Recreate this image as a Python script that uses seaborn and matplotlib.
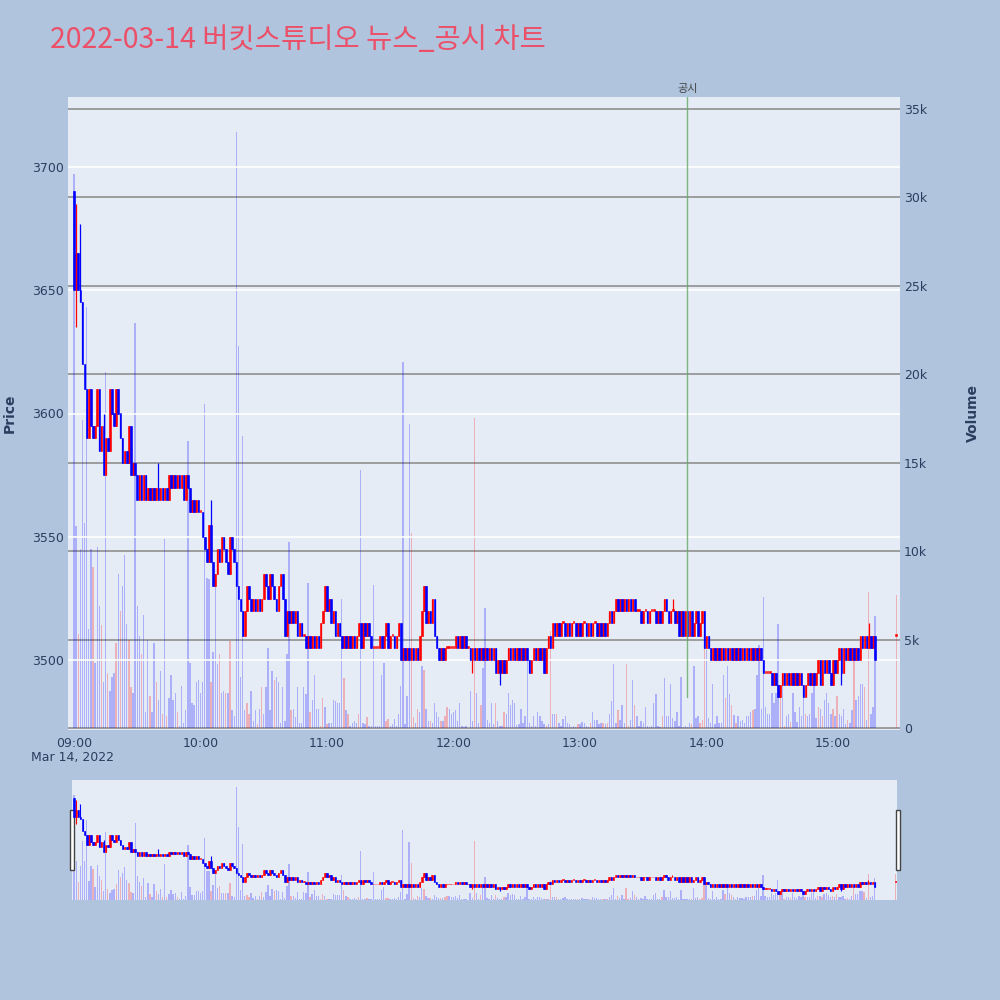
import numpy as np
import pandas as pd
import matplotlib
matplotlib.use("Agg")
import matplotlib.pyplot as plt
from matplotlib.patches import Rectangle
from matplotlib.ticker import FuncFormatter
import seaborn as sns

TITLE = "2022-03-14 버킷스튜디오 뉴스_공시 차트"
SESSION_START = "2022-03-14 09:00"
AUCTION_TIME = "2022-03-14 15:30"
NEWS_TIME = "2022-03-14 13:51"
NEWS_LABEL = "공시"

# 1-minute closes, 09:00 .. 15:20 (open = previous close)
first_open = 3690
closes = [
    3650, 3665, 3650, 3645, 3620, 3610, 3590, 3610, 3595, 3590,
    3595, 3610, 3585, 3595, 3575, 3590, 3585, 3610, 3600, 3595,
    3610, 3600, 3590, 3580, 3585, 3580, 3595, 3575, 3580, 3575,
    3565, 3575, 3565, 3575, 3565, 3570, 3565, 3570, 3565, 3570,
    3565, 3570, 3565, 3570, 3565, 3575, 3570, 3575, 3570, 3575,
    3570, 3575, 3565, 3575, 3570, 3560, 3565, 3560, 3565, 3560,
    3560, 3550, 3545, 3540, 3555, 3540, 3530, 3535, 3545, 3540,
    3550, 3545, 3540, 3535, 3550, 3545, 3540, 3530, 3525, 3520,
    3510, 3520, 3530, 3525, 3520, 3525, 3520, 3525, 3520, 3525,
    3535, 3530, 3525, 3535, 3530, 3525, 3520, 3530, 3535, 3525,
    3510, 3520, 3515, 3520, 3515, 3520, 3510, 3515, 3510, 3510,
    3505, 3510, 3505, 3510, 3505, 3510, 3505, 3515, 3520, 3530,
    3520, 3525, 3515, 3520, 3510, 3515, 3510, 3505, 3510, 3505,
    3510, 3505, 3510, 3505, 3510, 3515, 3505, 3515, 3510, 3515,
    3510, 3505, 3505, 3505, 3505, 3510, 3505, 3510, 3515, 3505,
    3510, 3510, 3505, 3510, 3515, 3500, 3505, 3500, 3505, 3500,
    3505, 3500, 3505, 3500, 3510, 3520, 3530, 3515, 3520, 3515,
    3525, 3510, 3505, 3500, 3505, 3500, 3505, 3505, 3505, 3505,
    3505, 3510, 3505, 3510, 3505, 3510, 3505, 3505, 3500, 3505,
    3500, 3505, 3500, 3505, 3500, 3505, 3500, 3505, 3500, 3505,
    3495, 3500, 3495, 3500, 3495, 3500, 3505, 3500, 3505, 3500,
    3505, 3500, 3505, 3500, 3505, 3500, 3495, 3500, 3505, 3500,
    3505, 3500, 3505, 3495, 3505, 3510, 3505, 3515, 3510, 3515,
    3510, 3515, 3515, 3510, 3515, 3510, 3515, 3515, 3510, 3515,
    3510, 3515, 3515, 3510, 3515, 3510, 3515, 3515, 3510, 3515,
    3510, 3515, 3510, 3515, 3520, 3515, 3520, 3525, 3520, 3525,
    3520, 3525, 3520, 3525, 3520, 3525, 3520, 3520, 3520, 3515,
    3520, 3520, 3515, 3520, 3520, 3520, 3515, 3520, 3515, 3520,
    3525, 3520, 3515, 3520, 3520, 3515, 3520, 3510, 3520, 3510,
    3520, 3510, 3520, 3510, 3515, 3520, 3510, 3515, 3520, 3505,
    3510, 3505, 3500, 3505, 3500, 3505, 3500, 3505, 3500, 3505,
    3500, 3505, 3500, 3505, 3500, 3505, 3500, 3505, 3500, 3505,
    3500, 3505, 3500, 3505, 3500, 3505, 3500, 3495, 3495, 3495,
    3495, 3490, 3495, 3490, 3485, 3490, 3495, 3490, 3495, 3490,
    3495, 3490, 3495, 3490, 3495, 3490, 3485, 3490, 3495, 3490,
    3495, 3490, 3495, 3500, 3490, 3500, 3495, 3500, 3495, 3490,
    3500, 3495, 3500, 3505, 3495, 3505, 3500, 3505, 3500, 3505,
    3500, 3505, 3500, 3510, 3505, 3510, 3505, 3510, 3505, 3510, 3500,
]
auction_price = 3510

# shadows that stick out of the body (minute index -> price)
wick_high = {1: 3685, 3: 3677, 14: 3600, 40: 3580, 65: 3565, 166: 3530,
             171: 3525, 284: 3525, 377: 3515}
wick_low = {1: 3635, 14: 3575, 27: 3575, 189: 3495, 202: 3490, 334: 3485,
            346: 3485, 364: 3490}

# volume per minute, thousands of shares
volume_k = [
    31.3, 11.4, 5.3, 10.1, 17.4, 11.6, 23.8, 5.6, 10.1, 9.1,
    3.7, 10.2, 6.9, 5.8, 2.6, 20.1, 3.1, 2.1, 2.9, 3.1,
    4.8, 8.7, 6.6, 8.0, 9.8, 5.9, 5.0, 2.3, 2.0, 22.9,
    6.9, 5.2, 4.2, 6.4, 0.9, 5.0, 1.8, 0.9, 4.8, 2.6,
    1.6, 3.2, 0.8, 10.7, 0.7, 1.7, 3.0, 1.6, 2.0, 0.9,
    0.1, 2.4, 0.3, 1.0, 16.2, 3.7, 1.4, 1.3, 2.6, 2.7,
    2.0, 2.6, 18.3, 8.5, 8.4, 2.6, 4.3, 8.0, 3.6, 4.2,
    2.0, 2.1, 2.0, 2.0, 4.9, 1.0, 0.7, 33.7, 21.6, 2.9,
    16.5, 1.0, 1.4, 0.8, 2.1, 0.4, 1.0, 0.2, 1.1, 2.3,
    0.8, 2.3, 4.5, 1.0, 3.2, 2.7, 2.9, 2.6, 0.3, 2.3,
    0.4, 4.2, 10.5, 1.0, 1.1, 0.6, 2.3, 0.3, 0.3, 2.3,
    1.9, 8.2, 0.9, 1.6, 3.0, 1.1, 1.1, 0.1, 1.7, 1.2,
    0.2, 0.3, 0.3, 1.6, 1.5, 1.4, 1.4, 7.3, 2.8, 1.0,
    0.8, 0.1, 0.3, 0.4, 0.3, 0.8, 14.6, 0.3, 0.2, 0.6,
    0.1, 0.1, 8.1, 0.1, 0.1, 0.1, 3.0, 3.7, 0.4, 0.5,
    0.1, 0.2, 0.5, 0.1, 0.8, 2.4, 20.7, 0.2, 1.8, 17.2,
    11.0, 0.6, 0.3, 1.1, 0.9, 3.5, 3.3, 1.1, 0.4, 0.4,
    0.3, 1.4, 0.9, 0.6, 0.4, 0.4, 0.7, 1.2, 1.1, 0.8,
    0.9, 1.0, 0.4, 1.4, 0.1, 0.05, 0.1, 0.0, 2.1, 0.4,
    17.5, 2.0, 0.3, 1.3, 3.4, 6.8, 0.45, 0.3, 1.4, 0.2,
    1.4, 0.4, 0.1, 0.1, 0.9, 0.8, 2.0, 1.3, 1.6, 1.4,
    0.15, 0.2, 1.1, 0.3, 0.65, 3.8, 0.3, 0.1, 0.65, 0.1,
    0.9, 0.7, 0.4, 0.2, 0.1, 0.2, 5.5, 0.8, 0.8, 0.8,
    0.3, 0.1, 0.5, 0.65, 0.3, 0.2, 0.05, 0.1, 0.05, 0.2,
    0.2, 0.35, 0.3, 0.1, 0.05, 0.3, 0.9, 0.45, 0.45, 0.2,
    0.3, 0.3, 0.2, 0.3, 0.8, 1.5, 3.6, 0.3, 1.0, 0.45,
    1.3, 0.3, 3.6, 0.1, 0.45, 2.7, 1.3, 0.65, 0.1, 0.4,
    0.3, 1.2, 0.1, 0.05, 0.1, 1.4, 1.9, 0.1, 0.05, 0.65,
    2.8, 0.65, 0.65, 2.5, 0.55, 0.4, 0.9, 0.1, 2.9, 0.05,
    0.1, 0.05, 0.3, 0.2, 3.5, 0.55, 0.65, 0.3, 0.45, 4.6,
    4.4, 0.55, 0.3, 2.5, 0.2, 0.65, 0.3, 0.3, 3.0, 1.7,
    3.5, 1.9, 1.3, 0.75, 0.3, 0.65, 0.4, 0.45, 0.3, 0.65,
    0.65, 0.9, 1.0, 1.1, 3.0, 4.7, 1.1, 7.4, 1.2, 0.8,
    0.8, 2.0, 1.4, 2.0, 5.9, 1.7, 2.9, 0.1, 0.65, 0.8,
    0.35, 2.0, 0.9, 0.35, 1.2, 0.65, 1.9, 0.8, 0.65, 0.8,
    2.0, 2.9, 0.55, 1.2, 1.1, 0.65, 1.6, 2.0, 1.4, 0.8,
    1.1, 0.65, 1.8, 0.8, 0.65, 1.1, 0.2, 0.45, 0.3, 1.0,
    3.8, 1.6, 1.8, 2.5, 2.5, 2.3, 0.45, 7.7, 0.8, 1.2, 6.3,
]
auction_volume_k = 7.5

# minutes whose volume bar is drawn red
red_volume = [2, 9, 13, 16, 20, 22, 26, 27, 32, 36, 39, 42, 44, 49, 65, 69,
              72, 74, 82, 83, 87, 89, 95, 103, 112, 117, 118, 120, 128, 130,
              135, 139, 148, 149, 160, 161, 163, 166, 169, 174, 176, 177, 190,
              193, 200, 204, 224, 226, 229, 239, 245, 251, 253, 258, 262, 263,
              266, 279, 293, 297, 298, 299, 309, 312, 314, 322, 335, 337, 340,
              347, 353, 355, 360, 362, 367, 370, 375, 377, 381]

price_ticks = [3500, 3550, 3600, 3650, 3700]
volume_ticks = [0, 5000, 10000, 15000, 20000, 25000, 30000, 35000]
time_ticks = ["09:00", "10:00", "11:00", "12:00", "13:00", "14:00", "15:00"]

BG = "#B0C4DE"
PLOT_BG = "#E5ECF6"
TXT = "#2a3f5f"


def build_frame():
    times = pd.date_range(SESSION_START, periods=len(closes), freq="min")
    times = times.append(pd.DatetimeIndex([AUCTION_TIME]))
    df = pd.DataFrame({
        "time": times,
        "open": [first_open] + closes[:-1] + [auction_price],
        "close": closes + [auction_price],
        "volume": np.array(volume_k + [auction_volume_k]) * 1000,
    })
    df["minute"] = (df["time"] - df["time"].iloc[0]).dt.total_seconds() / 60
    df["high"] = df[["open", "close"]].max(axis=1)
    df["low"] = df[["open", "close"]].min(axis=1)
    for i, p in wick_high.items():
        df.loc[i, "high"] = max(df.loc[i, "high"], p)
    for i, p in wick_low.items():
        df.loc[i, "low"] = min(df.loc[i, "low"], p)
    df["vol_dir"] = "down"
    df.loc[df.index.isin(red_volume), "vol_dir"] = "up"
    return df


def draw_candles(ax, df, body_lw=0.4, wick_lw=0.9, min_h=0.8, width=0.75):
    up = df["close"] >= df["open"]
    for mask, color in [(up, "red"), (~up, "blue")]:
        d = df[mask]
        ax.vlines(d["minute"], d["low"], d["high"], color=color, lw=wick_lw, zorder=3)
        ax.bar(d["minute"], (d["close"] - d["open"]).abs().clip(lower=min_h),
               bottom=d[["open", "close"]].min(axis=1), width=width, color=color,
               edgecolor=color, linewidth=body_lw, zorder=4)


def draw_volume(ax, df, alpha):
    sns.histplot(data=df, x="minute", weights="volume", hue="vol_dir",
                 palette={"up": "red", "down": "blue"}, discrete=True,
                 shrink=0.65, alpha=alpha, linewidth=0, legend=False,
                 multiple="layer", ax=ax)


sns.set_theme(style="white")
plt.rcParams["font.family"] = ["DejaVu Sans", "Noto Sans CJK KR"]

df = build_frame()
price_lim = (3471.7, 3728.3)
vol_lim = (-113, 35650)
x_lim = (-2.85, 391.8)

fig = plt.figure(figsize=(10, 10), dpi=100, facecolor=BG)

# main chart: volume axis behind, price axis on top
ax = fig.add_axes([0.068, 0.27, 0.832, 0.633])
axv = ax.twinx()
ax.set_zorder(axv.get_zorder() + 1)
ax.patch.set_visible(False)
axv.patch.set_visible(True)
axv.patch.set_facecolor(PLOT_BG)

draw_volume(axv, df, alpha=0.25)
axv.set_ylim(*vol_lim)
axv.set_yticks(volume_ticks)
axv.yaxis.set_major_formatter(FuncFormatter(lambda v, p: f"{int(v / 1000)}k" if v else "0"))
axv.grid(axis="y", color="#8f8f8f", lw=1.2)
axv.grid(axis="x", visible=False)
axv.set_ylabel("Volume", fontsize=10, weight="bold", color=TXT, labelpad=28)
axv.tick_params(axis="y", length=0, pad=3, labelsize=9, labelcolor=TXT)

draw_candles(ax, df)
ax.set_ylim(*price_lim)
ax.set_yticks(price_ticks)
ax.grid(axis="y", color="white", lw=1.2)
ax.grid(axis="x", visible=False)
ax.set_axisbelow(True)
ax.set_xlim(*x_lim)
ax.set_xticks([60 * i for i in range(len(time_ticks))])
ax.set_xticklabels(time_ticks)
ax.set_xlabel("")
ax.set_ylabel("")
ax.tick_params(axis="both", length=0, labelsize=9, labelcolor=TXT)
ax.tick_params(axis="x", pad=5)
ax.tick_params(axis="y", pad=3)
for a in (ax, axv):
    for s in a.spines.values():
        s.set_visible(False)

news_minute = (pd.Timestamp(NEWS_TIME) - pd.Timestamp(SESSION_START)).total_seconds() / 60
ax.axvline(news_minute, ymin=0.052, ymax=1.0, color="#62a862", lw=1, alpha=0.8, zorder=6)
ax.text(news_minute, 1.013, NEWS_LABEL, transform=ax.get_xaxis_transform(),
        ha="center", va="center", fontsize=8, color="#444444")
ax.text(-0.5, -0.043, "Mar 14, 2022", transform=ax.get_xaxis_transform(),
        ha="center", va="center", fontsize=9, color=TXT)

fig.text(0.01, 0.587, "Price", rotation=90, ha="center", va="center",
         fontsize=10, weight="bold", color=TXT)
fig.text(0.05, 0.96, TITLE, ha="left", va="center", fontsize=20.5,
         color="#EB5068", family=["Noto Sans CJK KR", "DejaVu Sans"])

# range slider
axs = fig.add_axes([0.072, 0.10, 0.825, 0.12])
axsv = axs.twinx()
axs.set_zorder(axsv.get_zorder() + 1)
axs.patch.set_visible(False)
axsv.patch.set_visible(True)
axsv.patch.set_facecolor(PLOT_BG)
draw_volume(axsv, df, alpha=0.25)
draw_candles(axs, df, body_lw=0.4, wick_lw=0.8, min_h=1.5)
axsv.set_ylim(*vol_lim)
axs.set_ylim(*price_lim)
axs.set_xlim(-1.0, 390.6)
for a in (axs, axsv):
    a.set_xticks([])
    a.set_yticks([])
    a.set_xlabel("")
    a.set_ylabel("")
    a.grid(False)
    for s in a.spines.values():
        s.set_visible(False)

for hx in (0.0695, 0.8955):
    fig.add_artist(Rectangle((hx, 0.13), 0.0045, 0.06, transform=fig.transFigure,
                             facecolor="white", edgecolor="#444444", lw=1))

fig.savefig("out.png", dpi=100, facecolor=BG)
